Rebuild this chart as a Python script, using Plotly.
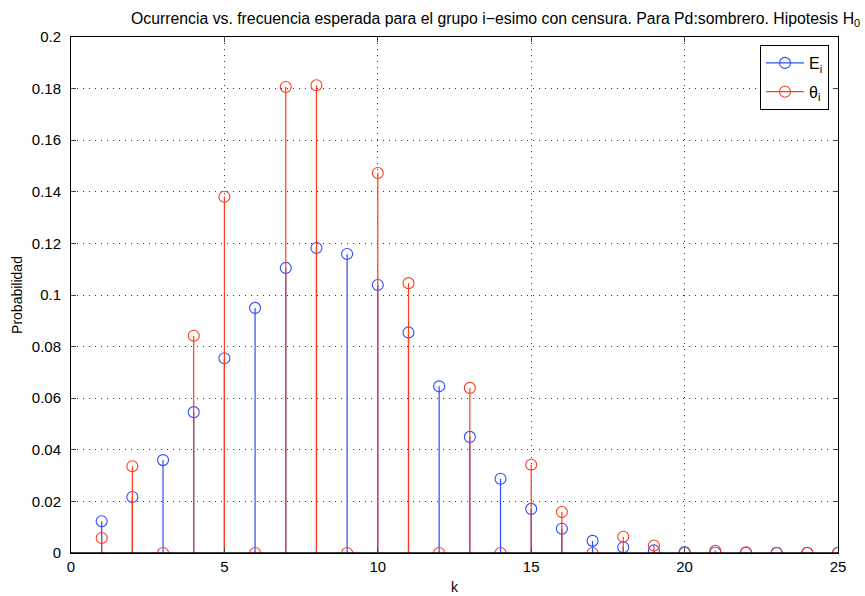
import plotly.graph_objects as go

k = list(range(1, 26))
E_i = [0.0123, 0.0217, 0.0360, 0.0546, 0.0755, 0.0950, 0.1105, 0.1182, 0.1159, 0.1039,
       0.0855, 0.0646, 0.0450, 0.0288, 0.0171, 0.0094, 0.0047, 0.0022, 0.0010, 0.0004,
       0.0002, 0.0001, 0.00004, 0.00001, 0.0]
theta_i = [0.0058, 0.0336, 0.0, 0.0842, 0.1381, 0.0, 0.1806, 0.1813, 0.0, 0.1473,
           0.1046, 0.0, 0.0640, 0.0, 0.0342, 0.0159, 0.0, 0.0063, 0.0029, 0.0,
           0.0009, 0.0003, 0.0, 0.0001, 0.0001]
x_ticks = [0, 5, 10, 15, 20, 25]
y_ticks = [0, 0.02, 0.04, 0.06, 0.08, 0.1, 0.12, 0.14, 0.16, 0.18, 0.2]
y_tick_labels = ["0", "0.02", "0.04", "0.06", "0.08", "0.1", "0.12", "0.14", "0.16", "0.18", "0.2"]

BLUE = "#2b4cff"
RED = "#ff3a1e"
FONT = "Liberation Sans, Arial, Helvetica, sans-serif"


def stem_xy(xs, ys):
    sx, sy = [], []
    for a, b in zip(xs, ys):
        sx += [a, a, None]
        sy += [0, b, None]
    return sx, sy


fig = go.Figure()

for vals, col, name, grp in [(E_i, BLUE, "E<sub>i</sub>", "e"), (theta_i, RED, "θ<sub>i</sub>", "t")]:
    sx, sy = stem_xy(k, vals)
    fig.add_trace(go.Scatter(x=sx, y=sy, mode="lines", line=dict(color=col, width=1.2),
                             showlegend=False, hoverinfo="skip"))
    fig.add_trace(go.Scatter(x=k, y=vals, mode="markers",
                             marker=dict(symbol="circle-open", size=11, color=col, line=dict(width=1.1)),
                             showlegend=False))
    # legend entry
    fig.add_trace(go.Scatter(x=[None], y=[None], mode="lines+markers", name=name, legendgroup=grp,
                             line=dict(color=col, width=1.2),
                             marker=dict(symbol="circle-open", size=11, color=col, line=dict(width=1.1))))

# baseline
fig.add_trace(go.Scatter(x=[0, 25], y=[0, 0], mode="lines", line=dict(color="black", width=1.5),
                         showlegend=False, hoverinfo="skip"))

GRID = dict(showgrid=True, gridcolor="#333333", griddash="1px,5px", gridwidth=1)

fig.update_layout(
    width=865, height=596,
    paper_bgcolor="white", plot_bgcolor="white",
    margin=dict(l=71, r=27, t=37, b=43),
    font=dict(family=FONT, size=14, color="black"),
    showlegend=True,
    legend=dict(x=(829 - 71) / 767, y=(553 - 45) / 516, xanchor="right", yanchor="top",
                bgcolor="white", bordercolor="black", borderwidth=1, itemwidth=38,
                font=dict(size=16), tracegroupgap=5, traceorder="grouped"),
    xaxis=dict(range=[0, 25], tickvals=x_ticks, ticks="inside", ticklen=5, automargin=False,
               showline=True, linecolor="black", linewidth=1, mirror="ticks",
               zeroline=False, tickfont=dict(size=15),
               title=dict(text="k", font=dict(size=14), standoff=8), **GRID),
    yaxis=dict(range=[0, 0.2], tickvals=y_ticks, ticktext=y_tick_labels, ticks="inside", ticklen=5,
               automargin=False, ticklabelstandoff=6,
               showline=True, linecolor="black", linewidth=1, mirror="ticks",
               zeroline=False, tickfont=dict(size=15),
               title=dict(text="Probabilidad", font=dict(size=14), standoff=5), **GRID),
)

fig.add_annotation(text="Ocurrencia vs. frecuencia esperada para el grupo i−esimo con censura. Para Pd:sombrero. Hipotesis H<sub>0</sub>",
                   xref="paper", yref="paper", x=(129 - 71) / 767, y=1.0,
                   xanchor="left", yanchor="bottom", yshift=6, showarrow=False,
                   font=dict(size=15.8, family=FONT))

fig.write_html("out.html", config={"displayModeBar": False},
               post_script="document.body.style.margin='0';document.body.style.overflow='hidden';")
